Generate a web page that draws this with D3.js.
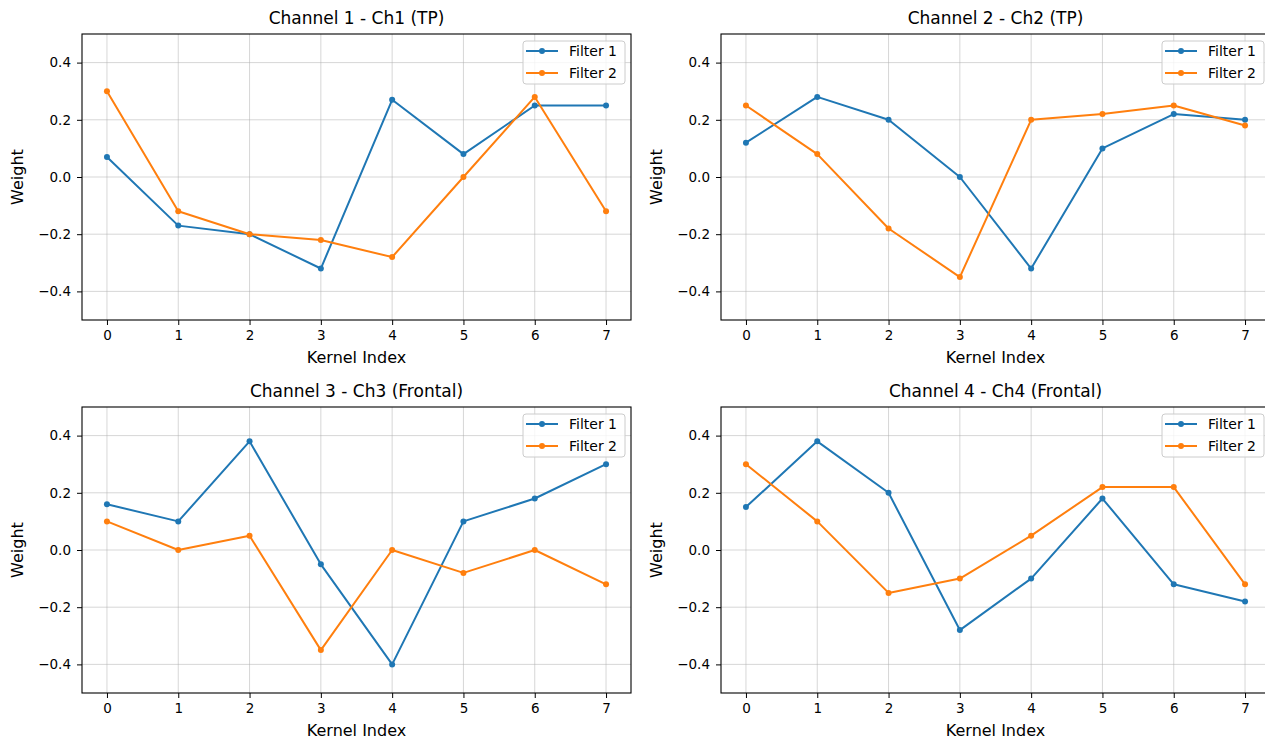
<!DOCTYPE html>
<html>
<head>
<meta charset="utf-8">
<script src="https://cdn.jsdelivr.net/npm/d3@7"></script>
<style>
  body { margin: 0; background: #fff; overflow: hidden; }
  svg { font-family: "DejaVu Sans", sans-serif; display: block; }
</style>
</head>
<body>
<div id="chart"></div>
<script>
// kernel indices on the x axis
const kernelIdx = [0, 1, 2, 3, 4, 5, 6, 7];
const yTicks = [-0.4, -0.2, 0.0, 0.2, 0.4];
const seriesNames = ["Filter 1", "Filter 2"];
const seriesColors = ["#1f77b4", "#ff7f0e"];

const panelTitles = [
  "Channel 1 - Ch1 (TP)",
  "Channel 2 - Ch2 (TP)",
  "Channel 3 - Ch3 (Frontal)",
  "Channel 4 - Ch4 (Frontal)"
];

// weights
const ch1Filter1 = [0.07, -0.17, -0.20, -0.32, 0.27, 0.08, 0.25, 0.25];
const ch1Filter2 = [0.30, -0.12, -0.20, -0.22, -0.28, 0.00, 0.28, -0.12];
const ch2Filter1 = [0.12, 0.28, 0.20, 0.00, -0.32, 0.10, 0.22, 0.20];
const ch2Filter2 = [0.25, 0.08, -0.18, -0.35, 0.20, 0.22, 0.25, 0.18];
const ch3Filter1 = [0.16, 0.10, 0.38, -0.05, -0.40, 0.10, 0.18, 0.30];
const ch3Filter2 = [0.10, 0.00, 0.05, -0.35, 0.00, -0.08, 0.00, -0.12];
const ch4Filter1 = [0.15, 0.38, 0.20, -0.28, -0.10, 0.18, -0.12, -0.18];
const ch4Filter2 = [0.30, 0.10, -0.15, -0.10, 0.05, 0.22, 0.22, -0.12];

const panelData = [
  [ch1Filter1, ch1Filter2],
  [ch2Filter1, ch2Filter2],
  [ch3Filter1, ch3Filter2],
  [ch4Filter1, ch4Filter2]
];

const W = 1265, H = 740;
const plotW = 549, plotH = 286;
const lefts = [82, 721];
const tops = [34, 407];

const svg = d3.select("#chart").append("svg")
  .attr("width", W).attr("height", H);

const x = d3.scaleLinear().domain([-0.35, 7.35]).range([0, plotW]);
const y = d3.scaleLinear().domain([-0.5, 0.5]).range([plotH, 0]);

const fmt = d => d3.format(".1f")(d).replace("-", "\u2212");

panelData.forEach((series, p) => {
  const left = lefts[p % 2], top = tops[Math.floor(p / 2)];
  const g = svg.append("g").attr("transform", `translate(${left},${top})`);

  // grid
  g.append("g").selectAll("line.gx").data(kernelIdx).enter().append("line")
    .attr("x1", d => x(d)).attr("x2", d => x(d))
    .attr("y1", 0).attr("y2", plotH)
    .attr("stroke", "#b0b0b0").attr("stroke-opacity", 0.5).attr("stroke-width", 1);
  g.append("g").selectAll("line.gy").data(yTicks).enter().append("line")
    .attr("x1", 0).attr("x2", plotW)
    .attr("y1", d => y(d)).attr("y2", d => y(d))
    .attr("stroke", "#b0b0b0").attr("stroke-opacity", 0.5).attr("stroke-width", 1);

  // axes
  const xAxis = g.append("g").attr("transform", `translate(0,${plotH})`)
    .call(d3.axisBottom(x).tickValues(kernelIdx).tickSize(5).tickPadding(5).tickFormat(d3.format("d")));
  const yAxis = g.append("g")
    .call(d3.axisLeft(y).tickValues(yTicks).tickSize(5).tickPadding(6).tickFormat(fmt));
  [xAxis, yAxis].forEach(a => {
    a.select(".domain").remove();
    a.selectAll("text").attr("font-size", 13.5).attr("fill", "#000")
      .attr("font-family", "DejaVu Sans");
    a.selectAll("line").attr("stroke", "#000").attr("stroke-width", 1);
  });

  // lines + markers
  const line = d3.line().x((d, i) => x(kernelIdx[i])).y(d => y(d));
  series.forEach((vals, s) => {
    g.append("path").datum(vals)
      .attr("d", line).attr("fill", "none")
      .attr("stroke", seriesColors[s]).attr("stroke-width", 2)
      .attr("stroke-linejoin", "round");
    g.append("g").selectAll("circle").data(vals).enter().append("circle")
      .attr("cx", (d, i) => x(kernelIdx[i])).attr("cy", d => y(d))
      .attr("r", 3).attr("fill", seriesColors[s]);
  });

  // frame
  g.append("rect").attr("width", plotW).attr("height", plotH)
    .attr("fill", "none").attr("stroke", "#000").attr("stroke-width", 1.1);

  // titles and labels
  g.append("text").attr("x", plotW / 2).attr("y", -10)
    .attr("text-anchor", "middle").attr("font-size", 17).text(panelTitles[p]);
  g.append("text").attr("x", plotW / 2).attr("y", plotH + 43)
    .attr("text-anchor", "middle").attr("font-size", 16).text("Kernel Index");
  g.append("text")
    .attr("transform", `translate(${-59},${plotH / 2}) rotate(-90)`)
    .attr("text-anchor", "middle").attr("font-size", 16).text("Weight");

  // legend
  const lg = g.append("g").attr("transform", `translate(${plotW - 108},7)`);
  lg.append("rect").attr("width", 102).attr("height", 43).attr("rx", 3)
    .attr("fill", "#fff").attr("fill-opacity", 0.8)
    .attr("stroke", "#cccccc");
  seriesNames.forEach((name, s) => {
    const ry = 10 + s * 22;
    lg.append("line").attr("x1", 3).attr("x2", 35).attr("y1", ry).attr("y2", ry)
      .attr("stroke", seriesColors[s]).attr("stroke-width", 2);
    lg.append("circle").attr("cx", 19).attr("cy", ry).attr("r", 3).attr("fill", seriesColors[s]);
    lg.append("text").attr("x", 46).attr("y", ry + 5)
      .attr("font-size", 14).text(name);
  });
});
</script>
</body>
</html>
